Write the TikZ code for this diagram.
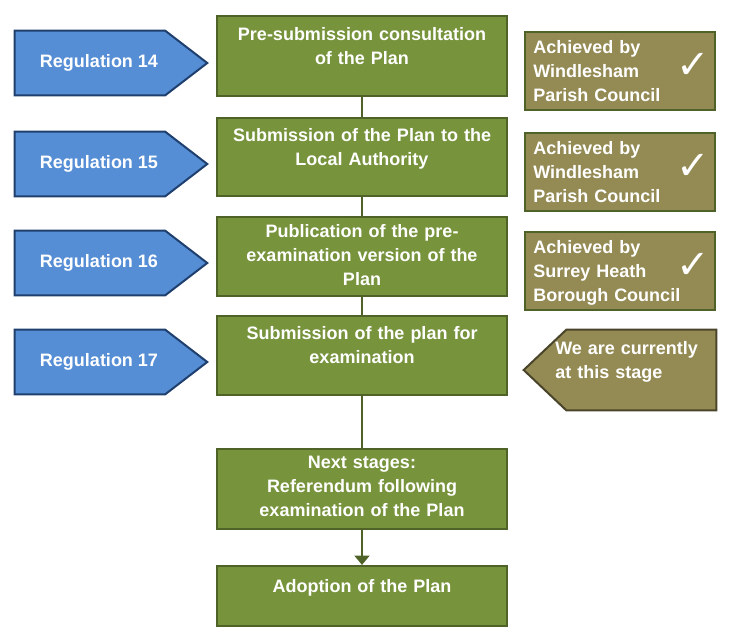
\documentclass[tikz,border=0pt]{standalone}
\usepackage{fontspec}
\setmainfont{Liberation Sans}
\newfontfamily\chkfont{DejaVu Sans}
\usetikzlibrary{positioning,arrows.meta}
\definecolor{regblue}{HTML}{558ED5}
\definecolor{regedge}{HTML}{1F3F6E}
\definecolor{stepgreen}{HTML}{77933C}
\definecolor{stepedge}{HTML}{4F6228}
\definecolor{olive}{HTML}{948A54}
\definecolor{oliveedge}{HTML}{4A452A}

\begin{document}
\begin{tikzpicture}[
x = 0.75pt, y = -0.75pt,
every node/.style = {
	font = \bfseries\fontsize{13.5}{18}\selectfont,
	text = white,
	inner sep = 0pt
},
regulation/.style = {
	minimum width = 144pt,
	minimum height = 48pt
},
regshape/.style = {
	draw = regedge,
	fill = regblue,
	line width = 1.5pt
},
stage/.style = {
	draw = stepedge,
	fill = stepgreen,
	line width = 1.5pt,
	minimum width = 218pt
},
stagetext/.style = {
	align = center,
	text width = 215pt
},
status/.style = {
	draw = stepedge,
	fill = olive,
	line width = 1.5pt,
	minimum width = 143pt,
	minimum height = 59pt
},
statustext/.style = {
	align = left,
	text width = 125pt,
	anchor = north west
},
tick/.style = {
	font = \chkfont\fontsize{30}{30}\selectfont
},
link/.style = {
	draw = stepedge,
	line width = 2.2pt
}
]
\useasboundingbox (0,0) rectangle (729,637);

% regulations
\foreach \num/\y in {14/63, 15/164, 16/263, 17/362} {
	\node (reg_\num) [regulation] at (111,\y) {};
	\filldraw [regshape] (reg_\num.north west) -- ([xshift=-31.5pt]reg_\num.north east)
		-- (reg_\num.east) -- ([xshift=-31.5pt]reg_\num.south east)
		-- (reg_\num.south west) -- cycle;
	\node at ([xshift=-9pt]reg_\num.center) {Regulation \num};
}

% stages
\node (stage_1) [stage, minimum height = 60pt] at (362,56) {};
\node [stagetext, below = 9pt of stage_1.north] {Pre-submission consultation\\of the Plan};
\node (stage_2) [stage, minimum height = 58pt] at (362,157) {};
\node [stagetext, below = 8pt of stage_2.north] {Submission of the Plan to the\\Local Authority};
\node (stage_3) [stage, minimum height = 59pt] at (362,256.5) {};
\node [stagetext, below = 6pt of stage_3.north] {Publication of the pre-\\examination version of the\\Plan};
\node (stage_4) [stage, minimum height = 59pt] at (362,355.5) {};
\node [stagetext, below = 8pt of stage_4.north] {Submission of the plan for\\examination};
\node (stage_5) [stage, minimum height = 60pt] at (362,488.5) {};
\node [stagetext, below = 6pt of stage_5.north] {Next stages:\\Referendum following\\examination of the Plan};
\node (stage_6) [stage, minimum height = 45pt] at (362,596) {};
\node [stagetext, below = 11pt of stage_6.north] {Adoption of the Plan};

\draw [link] (stage_1) -- (stage_2);
\draw [link] (stage_2) -- (stage_3);
\draw [link] (stage_3) -- (stage_4);
\draw [link] (stage_4) -- (stage_5);
\draw [link, -{Triangle[length=7pt,width=11pt]}] (stage_5) -- (stage_6);

% status
\node (status_14) [status] at (620,71) {};
\node [statustext] at ([xshift=7pt,yshift=-7pt]status_14.north west) {Achieved by\\Windlesham\\Parish Council};
\node [tick] at ([xshift=-17pt,yshift=4pt]status_14.east) {✓};
\node (status_15) [status] at (620,172) {};
\node [statustext] at ([xshift=7pt,yshift=-7pt]status_15.north west) {Achieved by\\Windlesham\\Parish Council};
\node [tick] at ([xshift=-17pt,yshift=4pt]status_15.east) {✓};
\node (status_16) [status] at (620,271) {};
\node [statustext] at ([xshift=7pt,yshift=-7pt]status_16.north west) {Achieved by\\Surrey Heath\\Borough Council};
\node [tick] at ([xshift=-17pt,yshift=4pt]status_16.east) {✓};
\node (status_17) [status, draw = none, fill = none] at (620,370) {};
\filldraw [draw = oliveedge, fill = olive, line width = 1.5pt]
	([xshift=32pt]status_17.north west) -- (status_17.north east)
	-- (status_17.south east) -- ([xshift=32pt]status_17.south west)
	-- (status_17.west) -- cycle;
\node [statustext] at ([xshift=-121pt,yshift=-9pt]status_17.north east) {We are currently\\at this stage};
\end{tikzpicture}
\end{document}
